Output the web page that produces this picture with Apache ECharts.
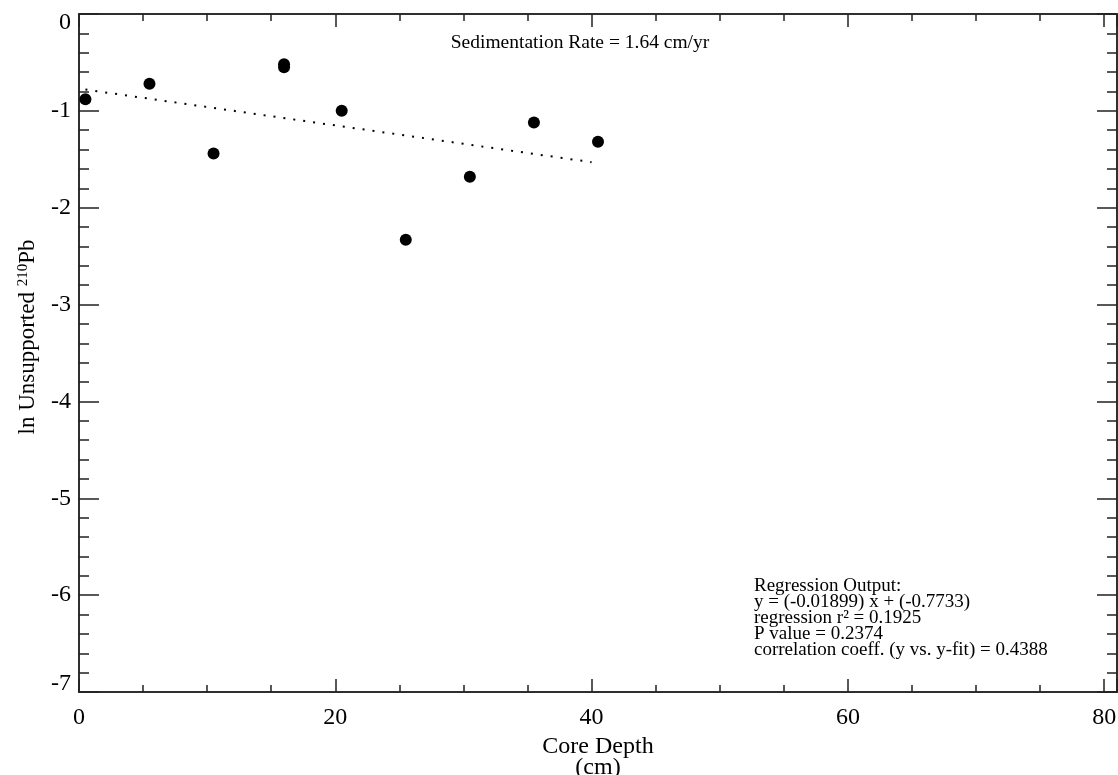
<!DOCTYPE html>
<html><head><meta charset="utf-8">
<script src="https://cdn.jsdelivr.net/npm/echarts@6/dist/echarts.min.js"></script>
<style>html,body{margin:0;padding:0;background:#fff}#c{width:1118px;height:775px}</style>
</head><body><div id="c"></div>
<script>
// Data
const depth = [0.5, 5.5, 10.5, 16, 16, 20.5, 25.5, 30.5, 35.5, 40.5];
const lnPb = [-0.88, -0.72, -1.44, -0.52, -0.55, -1.0, -2.33, -1.68, -1.12, -1.32];
// regression line end points
const fitX = [0.5, 40];
const fitY = [-0.78, -1.53];
// axis ranges / ticks
const xRange = [0, 81];
const yRange = [-7, 0];
const xMajor = 20, xMinor = 5, yMajor = 1, yMinor = 0.2;
const rateText = 'Sedimentation Rate = 1.64 cm/yr';
const regLines = [
  'Regression Output:',
  'y = (-0.01899) x + (-0.7733)',
  'regression r\u00B2 = 0.1925',
  'P value = 0.2374',
  'correlation coeff. (y vs. y-fit) = 0.4388'
];

const FONT = 'Liberation Serif';
const AX = '#222';
const chart = echarts.init(document.getElementById('c'));

function xAx(pos, interval, len, labels) {
  return {
    type: 'value', position: pos, min: xRange[0], max: xRange[1], interval: interval,
    axisLine: { show: true, onZero: false, lineStyle: { color: AX, width: 1.5 } },
    axisTick: { show: true, inside: true, length: len, lineStyle: { color: AX, width: 1.5 } },
    splitLine: { show: false },
    axisLabel: labels ? {
      show: true, fontFamily: FONT, fontSize: 24, color: '#000', margin: 14,
      formatter: v => (v % xMajor === 0 ? String(v) : '')
    } : { show: false },
    name: labels ? 'Core Depth\n(cm)' : '',
    nameLocation: 'middle', nameGap: 41,
    nameTextStyle: { fontFamily: FONT, fontSize: 24, color: '#000', lineHeight: 21 }
  };
}
function yAx(pos, interval, len, labels) {
  return {
    type: 'value', position: pos, min: yRange[0], max: yRange[1], interval: interval,
    axisLine: { show: true, onZero: false, lineStyle: { color: AX, width: 1.5 } },
    axisTick: { show: true, inside: true, length: len, lineStyle: { color: AX, width: 1.5 } },
    splitLine: { show: false },
    axisLabel: labels ? {
      show: true, fontFamily: FONT, fontSize: 24, color: '#000', margin: 8, lineHeight: 17,
      formatter: v => (v === yRange[1] ? '\n' + v : (v === yRange[0] ? v + '\n' : String(v)))
    } : { show: false },
    name: labels ? '{a|ln Unsupported }{s|210}{a|Pb}' : '',
    nameLocation: 'middle', nameGap: 40,
    nameTextStyle: {
      fontFamily: FONT, fontSize: 24, color: '#000', padding: [0, 0, 0, 32],
      rich: {
        a: { fontFamily: FONT, fontSize: 23, color: '#000' },
        s: { fontFamily: FONT, fontSize: 15, color: '#000', verticalAlign: 'top' }
      }
    }
  };
}

const scatterData = depth.map((d, i) => [d, lnPb[i]]);
const fitData = fitX.map((d, i) => [d, fitY[i]]);

chart.setOption({
  animation: false,
  backgroundColor: '#fff',
  grid: { left: 79, right: 1, top: 14, bottom: 83, containLabel: false, outerBoundsMode: 'none' },
  xAxis: [xAx('bottom', xMajor, 13, true), xAx('bottom', xMinor, 7, false),
          xAx('top', xMajor, 13, false), xAx('top', xMinor, 7, false)],
  yAxis: [yAx('left', yMajor, 20, true), yAx('left', yMinor, 10, false),
          yAx('right', yMajor, 20, false), yAx('right', yMinor, 10, false)],
  series: [
    { type: 'line', data: fitData, xAxisIndex: 0, yAxisIndex: 0, symbol: 'none',
      lineStyle: { color: '#000', width: 2, type: [2, 8] }, z: 2 },
    { type: 'scatter', data: scatterData, xAxisIndex: 0, yAxisIndex: 0, symbol: 'circle',
      symbolSize: 12, itemStyle: { color: '#000', opacity: 1 }, z: 3 }
  ],
  graphic: [
    { type: 'text', x: 580, y: 43, style: { text: rateText, fontFamily: FONT, fontSize: 19.5,
      fill: '#000', align: 'center', verticalAlign: 'middle' } },
    { type: 'text', x: 754, y: 578, style: { text: regLines.join('\n'), fontFamily: FONT,
      fontSize: 19, lineHeight: 16, fill: '#000', align: 'left', verticalAlign: 'top' } }
  ]
});
</script></body></html>
